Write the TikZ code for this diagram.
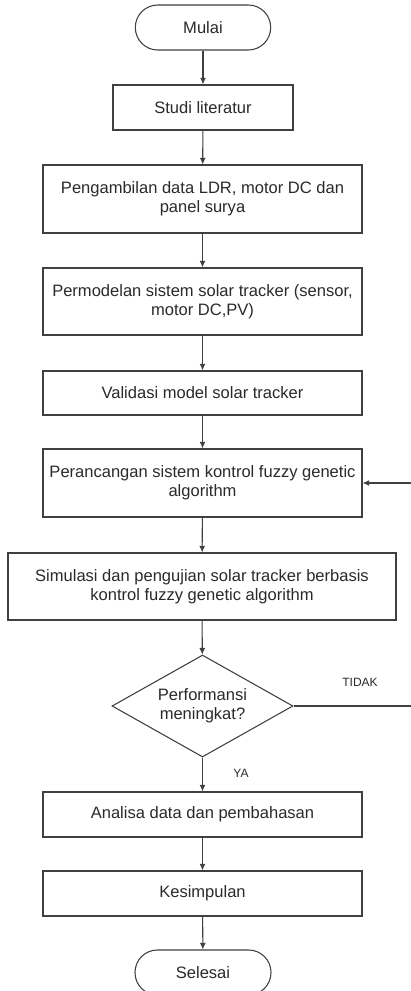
\documentclass[tikz,border=0pt]{standalone}
\usepackage{fontspec}
\setmainfont{Liberation Sans}
\usetikzlibrary{arrows.meta,shapes.geometric}
\definecolor{linegray}{HTML}{404040}
\definecolor{textgray}{HTML}{2A2A2A}
\begin{document}
\begin{tikzpicture}[x=0.75pt,y=-0.75pt,
  every node/.style={text=textgray,font=\fontsize{12.4}{14.5}\selectfont},
  box/.style={draw=linegray,line width=0.8pt,rectangle,align=center,inner sep=2pt},
  terminal/.style={draw=linegray,line width=0.8pt,rectangle,rounded corners=16.8pt,
    minimum width=101.5pt,minimum height=33.75pt},
  decision/.style={draw=linegray,line width=0.8pt,diamond,aspect=1.77,align=center,
    inner sep=0pt,minimum width=135.75pt,minimum height=76.5pt},
  flow/.style={draw=linegray,line width=0.8pt,-{Latex[length=5pt,width=4.5pt]}},
  tag/.style={font=\fontsize{9}{11}\selectfont}]
  \useasboundingbox (0,0) rectangle (410,991);
  \fill[white] (0,0) rectangle (410,991);

  % process steps, top to bottom
  \node[terminal] (mulai) at (203,27.5) {Mulai};
  \node[box,minimum width=135pt,minimum height=33.75pt] (studi) at (203,107.5) {Studi literatur};
  \node[box,minimum width=239.25pt,minimum height=51pt] (ambil) at (202.5,199)
    {Pengambilan data LDR, motor DC dan\\panel surya};
  \node[box,minimum width=239.25pt,minimum height=50.25pt] (model) at (202.5,301.5)
    {Permodelan sistem solar tracker (sensor,\\motor DC,PV)};
  \node[box,minimum width=239.25pt,minimum height=33pt] (valid) at (202.5,393)
    {Validasi model solar tracker};
  \node[box,minimum width=239.25pt,minimum height=51pt] (rancang) at (202.5,483)
    {Perancangan sistem kontrol fuzzy genetic\\algorithm};
  \node[box,minimum width=291pt,minimum height=50.25pt] (simul) at (202,586.5)
    {Simulasi dan pengujian solar tracker berbasis\\kontrol fuzzy genetic algorithm};
  \node[decision] (dec) at (202.5,706) {Performansi\\meningkat?};
  \node[box,minimum width=239.25pt,minimum height=33.75pt] (analisa) at (202.5,814.5)
    {Analisa data dan pembahasan};
  \node[box,minimum width=239.25pt,minimum height=33.75pt] (kesim) at (202.5,893.5)
    {Kesimpulan};
  \node[terminal,minimum width=102pt] (selesai) at (203,972.5) {Selesai};

  % branch labels
  \node[tag] (tidak) at (360,682) {TIDAK};
  \node[tag] (ya) at (241,773) {YA};

  % connectors
  \draw[flow] (mulai) -- (studi);
  \draw[flow] (studi) -- (ambil);
  \draw[flow] (ambil) -- (model);
  \draw[flow] (model) -- (valid);
  \draw[flow] (valid) -- (rancang);
  \draw[flow] (rancang) -- (simul);
  \draw[flow] (simul) -- (dec);
  \draw[flow] (dec) -- (analisa);
  \draw[flow] (analisa) -- (kesim);
  \draw[flow] (kesim) -- (selesai);

  % feedback loop back to the design step
  \coordinate (loopdown) at (412,706);
  \coordinate (loopup) at (412,483);
  \draw[flow] (dec.east) -- (loopdown) -- (loopup) -- (rancang.east);
\end{tikzpicture}
\end{document}
